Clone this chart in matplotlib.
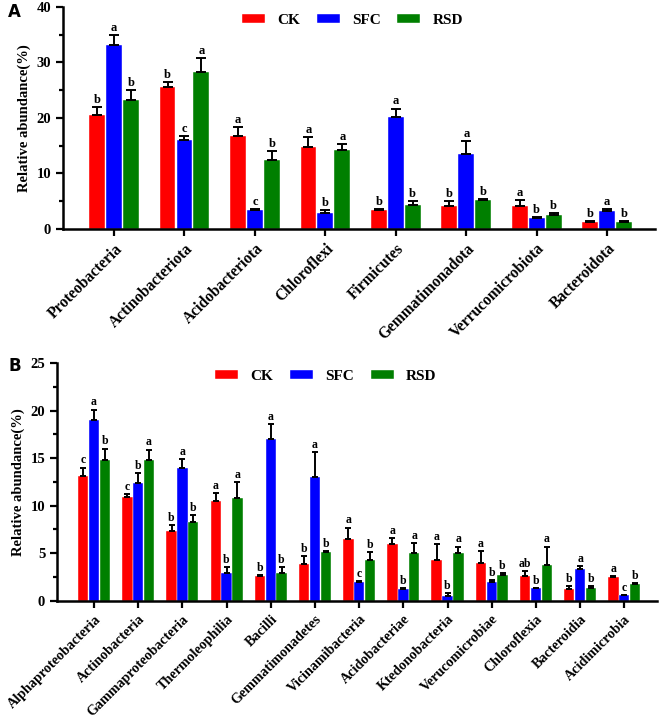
import matplotlib
matplotlib.use("Agg")
import matplotlib.pyplot as plt
import numpy as np
from matplotlib.ticker import MultipleLocator

plt.rcParams['font.family'] = ['Liberation Serif', 'DejaVu Serif']
plt.rcParams['font.weight'] = 'bold'

groups = ["CK", "SFC", "RSD"]
colors = ["#FF0000", "#0000FF", "#007F00"]

# Panel A: phyla
phyla = ["Proteobacteria", "Actinobacteriota", "Acidobacteriota", "Chloroflexi",
         "Firmicutes", "Gemmatimonadota", "Verrucomicrobiota", "Bacteroidota"]
a_ck = [20.6, 25.6, 16.8, 14.8, 3.4, 4.2, 4.1, 1.2]
a_sfc = [33.1, 16.1, 3.4, 2.9, 20.2, 13.5, 2.0, 3.3]
a_rsd = [23.2, 28.3, 12.5, 14.3, 4.25, 5.3, 2.6, 1.3]
a_ck_sd = [1.3, 0.9, 1.6, 1.8, 0.25, 0.8, 1.1, 0.3]
a_sfc_sd = [1.8, 0.7, 0.25, 0.5, 1.5, 2.4, 0.2, 0.3]
a_rsd_sd = [1.9, 2.5, 1.5, 1.0, 0.85, 0.15, 0.3, 0.2]
a_ck_let = ["b", "b", "a", "a", "b", "b", "a", "b"]
a_sfc_let = ["a", "c", "c", "b", "a", "a", "b", "a"]
a_rsd_let = ["b", "a", "b", "a", "b", "b", "b", "b"]

# Panel B: classes
classes = ["Alphaproteobacteria", "Actinobacteria", "Gammaproteobacteria", "Thermoleophilia",
           "Bacilli", "Gemmatimonadetes", "Vicinamibacteria", "Acidobacteriae",
           "Ktedonobacteria", "Verucomicrobiae", "Chloroflexia", "Bacteroidia", "Acidimicrobia"]
b_ck = [13.1, 10.9, 7.3, 10.5, 2.6, 3.9, 6.5, 6.0, 4.3, 4.0, 2.6, 1.2, 2.5]
b_sfc = [19.0, 12.4, 14.0, 2.9, 17.0, 13.0, 2.0, 1.2, 0.5, 2.0, 1.3, 3.3, 0.56]
b_rsd = [14.8, 14.8, 8.3, 10.8, 2.9, 5.1, 4.3, 5.0, 5.0, 2.7, 3.8, 1.3, 1.75]
b_ck_sd = [0.9, 0.3, 0.7, 0.8, 0.1, 0.8, 1.2, 0.6, 1.7, 1.2, 0.5, 0.3, 0.1]
b_sfc_sd = [1.1, 1.0, 0.9, 0.6, 1.6, 2.6, 0.1, 0.1, 0.3, 0.2, 0.05, 0.3, 0.05]
b_rsd_sd = [1.2, 1.1, 0.7, 1.7, 0.6, 0.1, 0.8, 1.1, 0.7, 0.2, 1.9, 0.2, 0.15]
b_ck_let = ["c", "c", "b", "a", "b", "b", "a", "a", "a", "a", "ab", "b", "a"]
b_sfc_let = ["a", "b", "a", "b", "a", "a", "c", "b", "b", "b", "b", "a", "c"]
b_rsd_let = ["b", "a", "b", "a", "b", "b", "b", "a", "a", "b", "a", "b", "b"]

fig = plt.figure(figsize=(6.6, 7.19), dpi=100)


def panel(ax, cats, vals, sds, lets, ymax, major, minor, xlim, let_off, width, off,
          capsize, tickfs, xfs, letfs):
    x = np.arange(len(cats))
    handles = []
    for i, (v, s, l) in enumerate(zip(vals, sds, lets)):
        pos = x + (i - 1) * off
        h = ax.bar(pos, v, width=width, color=colors[i], edgecolor='white', linewidth=0.3,
                   label=groups[i], zorder=2)
        handles.append(h)
        ax.errorbar(pos, v, yerr=[np.zeros(len(v)), s], fmt='none', ecolor='black',
                    elinewidth=1.4, capsize=capsize, capthick=1.4, zorder=3)
        for p, vv, ss, ll in zip(pos, v, s, l):
            ax.text(p, vv + ss + let_off, ll, ha='center', va='bottom',
                    fontsize=letfs, fontweight='bold')
    ax.set_ylim(0, ymax)
    ax.set_xlim(*xlim)
    ax.yaxis.set_major_locator(MultipleLocator(major))
    ax.yaxis.set_minor_locator(MultipleLocator(minor))
    ax.set_xticks(x)
    ax.set_xticklabels(cats, rotation=45, ha='right', rotation_mode='anchor',
                       fontsize=xfs, fontweight='bold')
    for sp in ['top', 'right']:
        ax.spines[sp].set_visible(False)
    for sp in ['left', 'bottom']:
        ax.spines[sp].set_linewidth(1.8)
    ax.tick_params(axis='both', which='major', width=1.6, length=5)
    ax.tick_params(axis='y', labelsize=tickfs)
    ax.tick_params(axis='y', which='minor', width=1.6, length=3)
    for t in ax.get_yticklabels():
        t.set_fontweight('bold')
    ax.set_ylabel("Relative abundance(%)", fontsize=10.5, fontweight='bold', labelpad=4)
    return handles


axA = fig.add_axes([0.0955, 0.6815, 0.897, 0.3088])
hA = panel(axA, phyla, [a_ck, a_sfc, a_rsd], [a_ck_sd, a_sfc_sd, a_rsd_sd],
           [a_ck_let, a_sfc_let, a_rsd_let], 40, 10, 5, (-0.724, 7.68), 0.2,
           0.225, 0.24, 3.5, 10.5, 11.2, 9)
axA.legend(handles=hA, loc='upper center', bbox_to_anchor=(0.534, 1.0),
           bbox_transform=fig.transFigure, ncol=3, frameon=False,
           prop={'family': 'Liberation Serif', 'weight': 'bold', 'size': 11},
           handlelength=1.5, handleheight=0.6, handletextpad=0.8, columnspacing=1.1)

axB = fig.add_axes([0.0864, 0.1645, 0.909, 0.3306])
hB = panel(axB, classes, [b_ck, b_sfc, b_rsd], [b_ck_sd, b_sfc_sd, b_rsd_sd],
           [b_ck_let, b_sfc_let, b_rsd_let], 25, 5, 2.5, (-0.837, 12.74), 0.12,
           0.235, 0.245, 2.5, 10.5, 10.2, 8.5)
axB.legend(handles=hB, loc='upper center', bbox_to_anchor=(0.494, 1 - 356 / 719),
           bbox_transform=fig.transFigure, ncol=3, frameon=False,
           prop={'family': 'Liberation Serif', 'weight': 'bold', 'size': 11},
           handlelength=1.5, handleheight=0.6, handletextpad=0.8, columnspacing=1.1)

fig.text(8 / 660, 1 - 12 / 719, "A", fontsize=12, fontweight='bold', family='DejaVu Sans',
         va='center')
fig.text(8 / 660, 1 - 366 / 719, "B", fontsize=12, fontweight='bold', family='DejaVu Sans',
         va='center')

fig.savefig("out.png", dpi=100)
